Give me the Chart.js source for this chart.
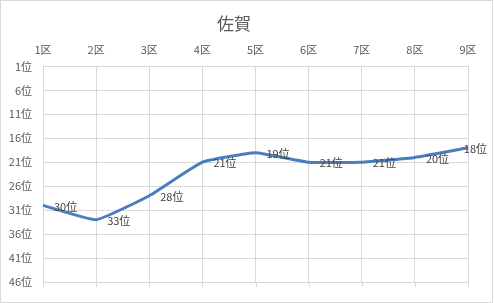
<!DOCTYPE html>
<html>
<head>
<meta charset="utf-8">
<script src="https://cdn.jsdelivr.net/npm/chart.js@4/dist/chart.umd.min.js"></script>
<style>
  html, body { margin: 0; padding: 0; background: #fff; }
  #wrap { position: relative; width: 494px; height: 303px; }
  #frame { position: absolute; left: 0; top: 0; width: 493px; height: 303px; box-sizing: border-box; border: 1px solid #d9d9d9; pointer-events: none; }
</style>
</head>
<body>
<div id="wrap">
  <canvas id="rankChart" width="494" height="303"></canvas>
  <div id="frame"></div>
</div>
<script>
// data
const chartTitle = '佐賀';
const districts = ['1区', '2区', '3区', '4区', '5区', '6区', '7区', '8区', '9区'];
const ranks = [30, 33, 28, 21, 19, 21, 21, 20, 18];
const rankMin = 1;
const rankMax = 46;
const rankStep = 5;

const FONT = '"Noto Sans CJK JP", "Noto Sans", sans-serif';

// labels next to each point, pushed back inside the canvas at the right edge
const pointLabels = {
  id: 'pointLabels',
  afterDatasetsDraw(chart) {
    const ctx = chart.ctx;
    const meta = chart.getDatasetMeta(0);
    ctx.save();
    ctx.font = '11px ' + FONT;
    ctx.fillStyle = '#404040';
    ctx.textBaseline = 'middle';
    ctx.textAlign = 'left';
    meta.data.forEach((pt, i) => {
      const text = ranks[i] + '位';
      const w = ctx.measureText(text).width;
      const x = Math.min(pt.x + 11, chart.width - 7 - w);
      ctx.fillText(text, x, pt.y + 1);
    });
    ctx.restore();
  }
};

// short tick marks under the plot, like the reference
const bottomTicks = {
  id: 'bottomTicks',
  beforeDatasetsDraw(chart) {
    const ctx = chart.ctx;
    const xs = chart.scales.x;
    const bottom = chart.chartArea.bottom;
    ctx.save();
    ctx.strokeStyle = '#d9d9d9';
    ctx.lineWidth = 1;
    xs.ticks.forEach((t, i) => {
      const x = Math.round(xs.getPixelForTick(i)) + 0.5;
      ctx.beginPath();
      ctx.moveTo(x, bottom);
      ctx.lineTo(x, bottom + 5);
      ctx.stroke();
    });
    ctx.restore();
  }
};

new Chart(document.getElementById('rankChart'), {
  type: 'line',
  data: {
    labels: districts,
    datasets: [{
      data: ranks,
      borderColor: '#4a7ebb',
      borderWidth: 3,
      pointRadius: 0,
      tension: 0.12,
      fill: false
    }]
  },
  options: {
    responsive: false,
    animation: false,
    layout: { padding: { left: 0, right: 26, top: 0, bottom: 21 } },
    plugins: {
      legend: { display: false },
      tooltip: { enabled: false },
      title: {
        display: true,
        text: chartTitle,
        color: '#595959',
        font: { family: FONT, size: 17, weight: 'normal', lineHeight: 1.2 },
        padding: { top: 13, bottom: 3 }
      }
    },
    scales: {
      x: {
        position: 'top',
        offset: false,
        afterFit(scale) { scale.height = 30; },
        grid: { color: '#d9d9d9', drawTicks: false },
        border: { color: '#d9d9d9' },
        ticks: {
          color: '#595959',
          font: { family: FONT, size: 11 },
          padding: 10,
          maxRotation: 0
        }
      },
      y: {
        reverse: true,
        min: rankMin,
        max: rankMax,
        afterFit(scale) { scale.width = 43; },
        grid: { color: '#d9d9d9', drawTicks: false },
        border: { color: '#d9d9d9' },
        ticks: {
          stepSize: rankStep,
          color: '#595959',
          font: { family: FONT, size: 11 },
          padding: 11,
          callback: v => v + '位'
        }
      }
    }
  },
  plugins: [pointLabels, bottomTicks]
});
</script>
</body>
</html>
